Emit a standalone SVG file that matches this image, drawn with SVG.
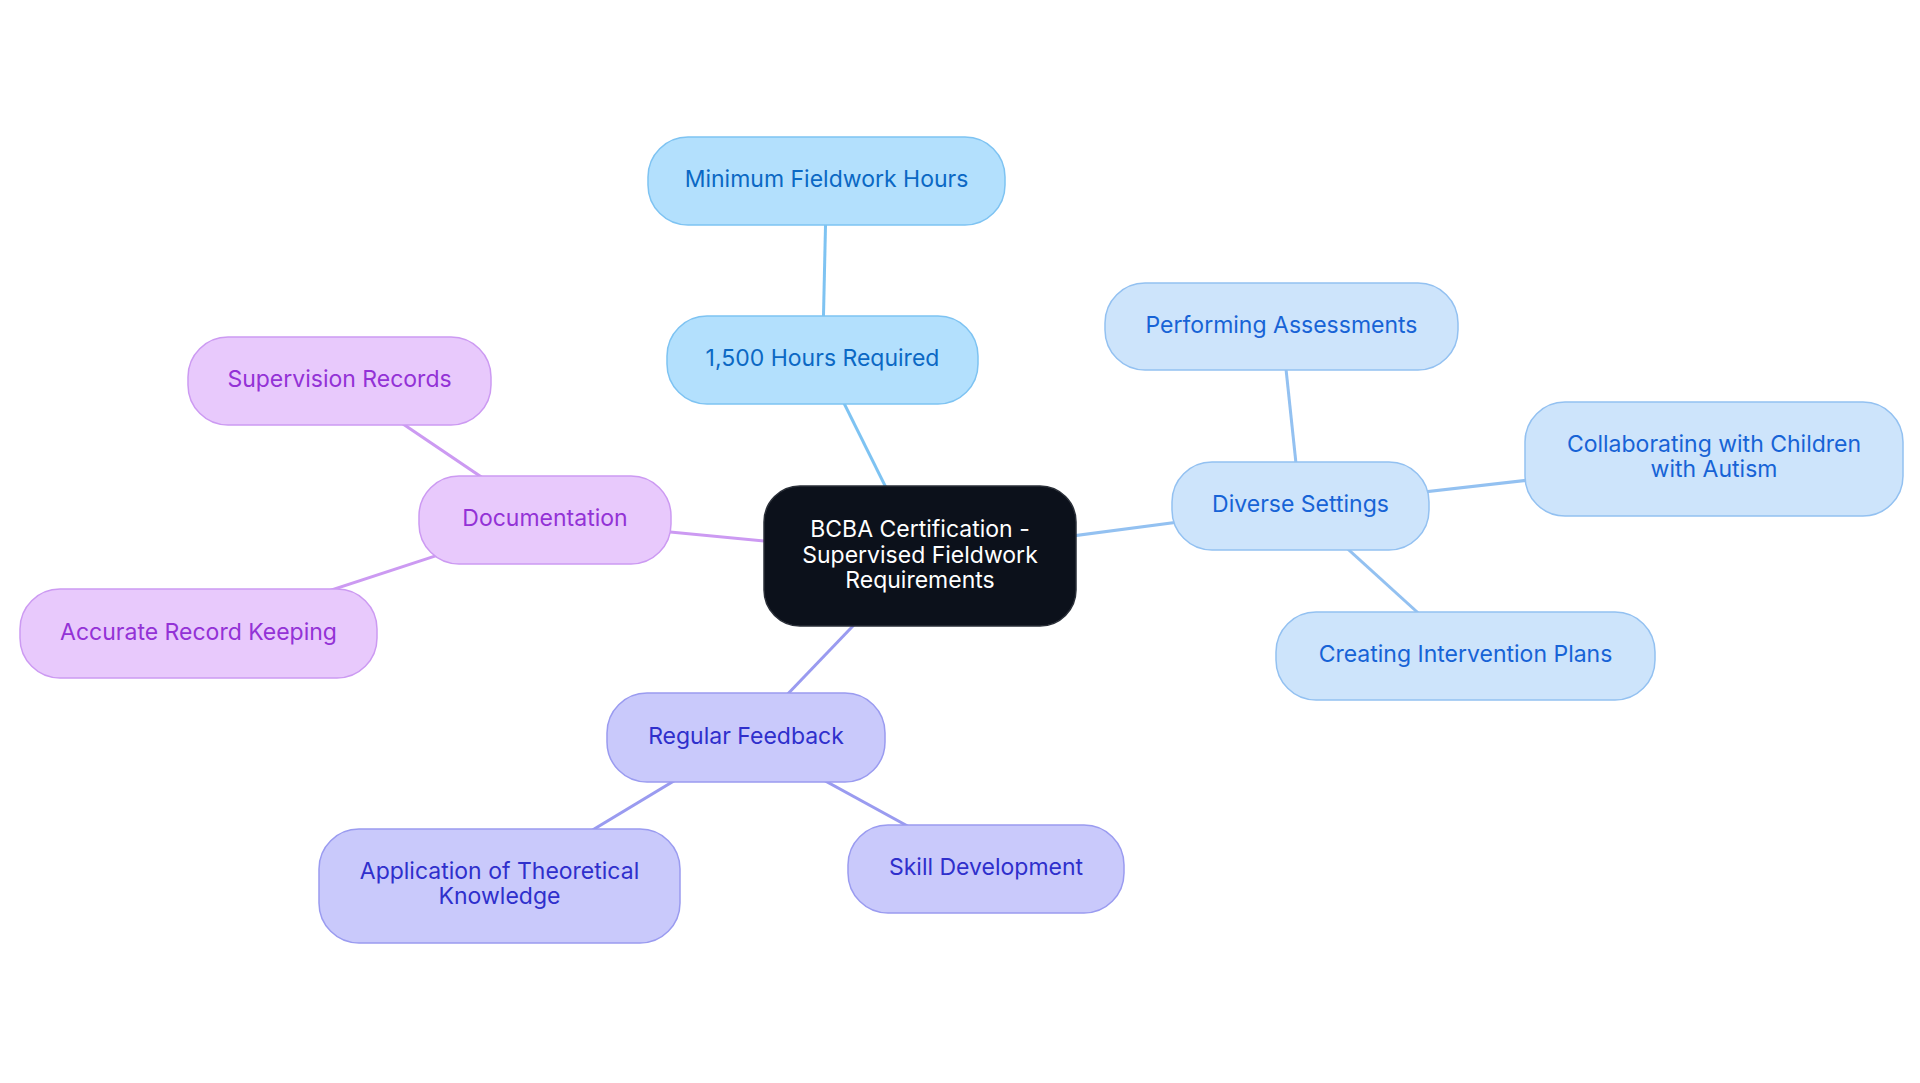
<svg xmlns="http://www.w3.org/2000/svg" width="1920" height="1083" viewBox="0 0 1920 1083">
<style>
text{font-family:Inter,"Noto Sans","Liberation Sans",sans-serif;font-size:23px;text-anchor:middle}
.root rect{fill:#0c111b;stroke:#2a2f38;stroke-width:1.5}
.root text{fill:#ffffff}
.b1 rect{fill:#b3e0fd;stroke:#7ec3f2;stroke-width:1.5}
.b1 text{fill:#0b68c4}
.b2 rect{fill:#cde4fb;stroke:#93c1f1;stroke-width:1.5}
.b2 text{fill:#1763d6}
.b3 rect{fill:#e8c9fc;stroke:#cc9af2;stroke-width:1.5}
.b3 text{fill:#9332d6}
.b4 rect{fill:#c9c9fb;stroke:#9a9bf0;stroke-width:1.5}
.b4 text{fill:#2f2fcc}
#edges line{stroke-width:3;fill:none}
.e1{stroke:#7ec3f2}
.e2{stroke:#93c1f1}
.e3{stroke:#cc9af2}
.e4{stroke:#9a9bf0}
</style>
<rect width="1920" height="1083" fill="#ffffff"/>
<g id="edges">
<line class="e1" x1="920" y1="556" x2="822.5" y2="360"/>
<line class="e1" x1="822.5" y1="360" x2="826.5" y2="181"/>
<line class="e2" x1="920" y1="556" x2="1300.5" y2="506"/>
<line class="e2" x1="1300.5" y1="506" x2="1281.5" y2="326.5"/>
<line class="e2" x1="1300.5" y1="506" x2="1714" y2="459"/>
<line class="e2" x1="1300.5" y1="506" x2="1465.5" y2="656"/>
<line class="e3" x1="920" y1="556" x2="545" y2="520"/>
<line class="e3" x1="545" y1="520" x2="339.5" y2="381"/>
<line class="e3" x1="545" y1="520" x2="198.5" y2="633.5"/>
<line class="e4" x1="920" y1="556" x2="746" y2="737.5"/>
<line class="e4" x1="746" y1="737.5" x2="499.5" y2="886"/>
<line class="e4" x1="746" y1="737.5" x2="986" y2="869"/>
</g>
<g id="root" class="root">
<rect x="764" y="486" width="312" height="140" rx="36"/>
<text x="920" y="537">BCBA Certification -</text>
<text x="920" y="563">Supervised Fieldwork</text>
<text x="920" y="588">Requirements</text>
</g>
<g id="hours" class="b1">
<rect x="667" y="316" width="311" height="88" rx="40"/>
<text x="822.5" y="366">1,500 Hours Required</text>
</g>
<g id="minimum" class="b1">
<rect x="648" y="137" width="357" height="88" rx="40"/>
<text x="826.5" y="187">Minimum Fieldwork Hours</text>
</g>
<g id="diverse" class="b2">
<rect x="1172" y="462" width="257" height="88" rx="40"/>
<text x="1300.5" y="512">Diverse Settings</text>
</g>
<g id="assess" class="b2">
<rect x="1105" y="283" width="353" height="87" rx="40"/>
<text x="1281.5" y="332.5">Performing Assessments</text>
</g>
<g id="collab" class="b2">
<rect x="1525" y="402" width="378" height="114" rx="40"/>
<text x="1714" y="452">Collaborating with Children</text>
<text x="1714" y="477">with Autism</text>
</g>
<g id="plans" class="b2">
<rect x="1276" y="612" width="379" height="88" rx="40"/>
<text x="1465.5" y="662">Creating Intervention Plans</text>
</g>
<g id="doc" class="b3">
<rect x="419" y="476" width="252" height="88" rx="40"/>
<text x="545" y="526">Documentation</text>
</g>
<g id="superv" class="b3">
<rect x="188" y="337" width="303" height="88" rx="40"/>
<text x="339.5" y="387">Supervision Records</text>
</g>
<g id="accurate" class="b3">
<rect x="20" y="589" width="357" height="89" rx="40"/>
<text x="198.5" y="639.5">Accurate Record Keeping</text>
</g>
<g id="feedback" class="b4">
<rect x="607" y="693" width="278" height="89" rx="40"/>
<text x="746" y="743.5">Regular Feedback</text>
</g>
<g id="theory" class="b4">
<rect x="319" y="829" width="361" height="114" rx="40"/>
<text x="499.5" y="878.5">Application of Theoretical</text>
<text x="499.5" y="904">Knowledge</text>
</g>
<g id="skill" class="b4">
<rect x="848" y="825" width="276" height="88" rx="40"/>
<text x="986" y="875">Skill Development</text>
</g>
</svg>
